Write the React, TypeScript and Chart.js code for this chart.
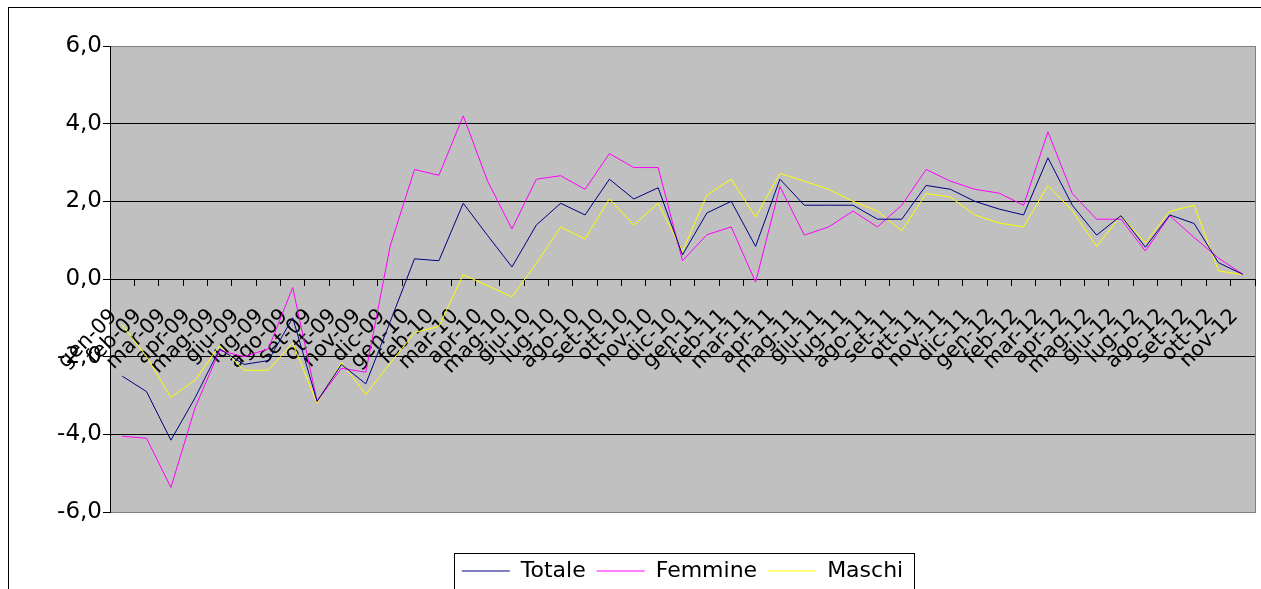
import React, { useEffect, useRef } from 'react';
import { Chart, registerables } from 'chart.js';

Chart.register(...registerables);

const categories = [
  'gen-09', 'feb-09', 'mar-09', 'apr-09', 'mag-09', 'giu-09', 'lug-09', 'ago-09', 'set-09', 'ott-09', 'nov-09', 'dic-09',
  'gen-10', 'feb-10', 'mar-10', 'apr-10', 'mag-10', 'giu-10', 'lug-10', 'ago-10', 'set-10', 'ott-10', 'nov-10', 'dic-10',
  'gen-11', 'feb-11', 'mar-11', 'apr-11', 'mag-11', 'giu-11', 'lug-11', 'ago-11', 'set-11', 'ott-11', 'nov-11', 'dic-11',
  'gen-12', 'feb-12', 'mar-12', 'apr-12', 'mag-12', 'giu-12', 'lug-12', 'ago-12', 'set-12', 'ott-12', 'nov-12',
];

const totale = [
  -2.5, -2.9, -4.15, -3.05, -1.8, -2.2, -2.1, -1.0, -3.15, -2.2, -2.7, -1.1,
  0.52, 0.47, 1.95, 1.12, 0.31, 1.39, 1.95, 1.65, 2.57, 2.06, 2.35, 0.62,
  1.7, 2.0, 0.84, 2.57, 1.9, 1.9, 1.9, 1.54, 1.54, 2.41, 2.31, 2.0,
  1.8, 1.65, 3.12, 1.9, 1.13, 1.63, 0.82, 1.65, 1.43, 0.42, 0.12,
];

const femmine = [
  -4.05, -4.1, -5.37, -3.3, -1.84, -2.0, -1.8, -0.22, -3.15, -2.3, -2.4, 0.85,
  2.82, 2.67, 4.2, 2.52, 1.29, 2.57, 2.66, 2.31, 3.23, 2.87, 2.87, 0.47,
  1.14, 1.34, -0.08, 2.38, 1.13, 1.34, 1.75, 1.34, 1.9, 2.82, 2.52, 2.31,
  2.21, 1.9, 3.79, 2.2, 1.54, 1.54, 0.72, 1.63, 1.07, 0.54, 0.12,
];

const maschi = [
  -1.18, -2.0, -3.05, -2.6, -1.71, -2.35, -2.35, -1.65, -3.2, -2.15, -2.97, -2.17,
  -1.38, -1.22, 0.11, -0.17, -0.46, 0.4, 1.34, 1.03, 2.06, 1.39, 1.95, 0.71,
  2.16, 2.57, 1.6, 2.72, 2.52, 2.31, 2.0, 1.75, 1.24, 2.2, 2.11, 1.65,
  1.44, 1.34, 2.41, 1.76, 0.84, 1.63, 0.93, 1.74, 1.9, 0.21, 0.11,
];

const yMin = -6;
const yMax = 6;
const yStep = 2;

const FONT = 'DejaVu Sans';
const W = 1252;
const H = 581;

export default function App() {
  const ref = useRef<HTMLCanvasElement | null>(null);

  useEffect(() => {
    if (!ref.current) return;

    const framePlugin = {
      id: 'framePlugin',
      beforeDraw(chart: any) {
        const { ctx, chartArea: a } = chart;
        ctx.save();
        ctx.fillStyle = '#C0C0C0';
        ctx.fillRect(a.left, a.top, a.right - a.left, a.bottom - a.top);
        ctx.strokeStyle = '#808080';
        ctx.lineWidth = 1;
        ctx.strokeRect(a.left + 0.5, a.top + 0.5, a.right - a.left, a.bottom - a.top);
        const lg = chart.legend;
        if (lg && lg.legendHitBoxes && lg.legendHitBoxes.length) {
          const hb = lg.legendHitBoxes;
          const l = Math.min(...hb.map((h: any) => h.left)) - 8;
          const r = Math.max(...hb.map((h: any) => h.left + h.width)) + 11;
          const cy = hb[0].top + hb[0].height / 2;
          const t = Math.round(cy - 18);
          const b = Math.round(cy + 18);
          ctx.fillStyle = '#FFFFFF';
          ctx.fillRect(Math.round(l), t, Math.round(r - l), b - t);
          ctx.strokeStyle = '#000000';
          ctx.strokeRect(Math.round(l) + 0.5, t + 0.5, Math.round(r - l), b - t);
        }
        ctx.restore();
      },
    };

    const chart = new Chart(ref.current, {
      type: 'line',
      data: {
        labels: categories,
        datasets: [
          { label: 'Totale', data: totale, borderColor: '#000080', backgroundColor: '#000080', borderWidth: 1, pointRadius: 0, pointStyle: 'line', tension: 0, fill: false },
          { label: 'Femmine', data: femmine, borderColor: '#FF00FF', backgroundColor: '#FF00FF', borderWidth: 1, pointRadius: 0, pointStyle: 'line', tension: 0, fill: false },
          { label: 'Maschi', data: maschi, borderColor: '#FFFF00', backgroundColor: '#FFFF00', borderWidth: 1, pointRadius: 0, pointStyle: 'line', tension: 0, fill: false },
        ],
      },
      options: {
        responsive: false,
        animation: false,
        devicePixelRatio: 1,
        layout: { padding: { left: 0, top: 38, right: 6, bottom: 10 } },
        scales: {
          x: {
            type: 'category',
            offset: true,
            position: { y: 0 },
            afterFit: (s: any) => { s.paddingLeft = 0; s.paddingRight = 0; },
            grid: { offset: true, drawOnChartArea: false, tickLength: 6, color: '#000000' },
            border: { display: true, color: '#000000', width: 1 },
            ticks: {
              autoSkip: false,
              maxRotation: 45,
              minRotation: 45,
              padding: 19,
              labelOffset: -8,
              color: '#000000',
              font: { family: FONT, size: 21 },
            },
          },
          y: {
            min: yMin,
            max: yMax,
            afterFit: (s: any) => { s.width = 101; },
            grid: {
              color: (c: any) => (c.tick && (c.tick.value === yMax || c.tick.value === yMin) ? '#808080' : '#000000'),
              tickColor: '#000000',
              tickLength: 7,
            },
            border: { display: true, color: '#000000', width: 1 },
            ticks: {
              stepSize: yStep,
              padding: 1,
              color: '#000000',
              font: { family: FONT, size: 23 },
              callback: (v: any) => Number(v).toFixed(1).replace('.', ','),
            },
          },
        },
        plugins: {
          tooltip: { enabled: false },
          title: { display: false },
          subtitle: {
            display: true,
            position: 'bottom',
            text: '',
            font: { size: 1, lineHeight: 1 },
            padding: { top: 36, bottom: 0 },
          },
          legend: {
            display: true,
            position: 'bottom',
            fullSize: false,
            weight: 3000,
            maxHeight: 30,
            labels: {
              usePointStyle: true,
              pointStyle: 'line',
              pointStyleWidth: 48,
              padding: 11,
              color: '#000000',
              font: { family: FONT, size: 22 },
            },
          },
        },
      } as any,
      plugins: [framePlugin],
    });

    return () => chart.destroy();
  }, []);

  return (
    <div
      style={{
        position: 'fixed',
        left: 8,
        top: 7,
        width: 1253,
        height: 582,
        boxSizing: 'border-box',
        borderTop: '1px solid #000',
        borderLeft: '1px solid #000',
        background: '#fff',
        overflow: 'hidden',
      }}
    >
      <canvas ref={ref} width={W} height={H} style={{ display: 'block', width: W, height: H }} />
    </div>
  );
}
